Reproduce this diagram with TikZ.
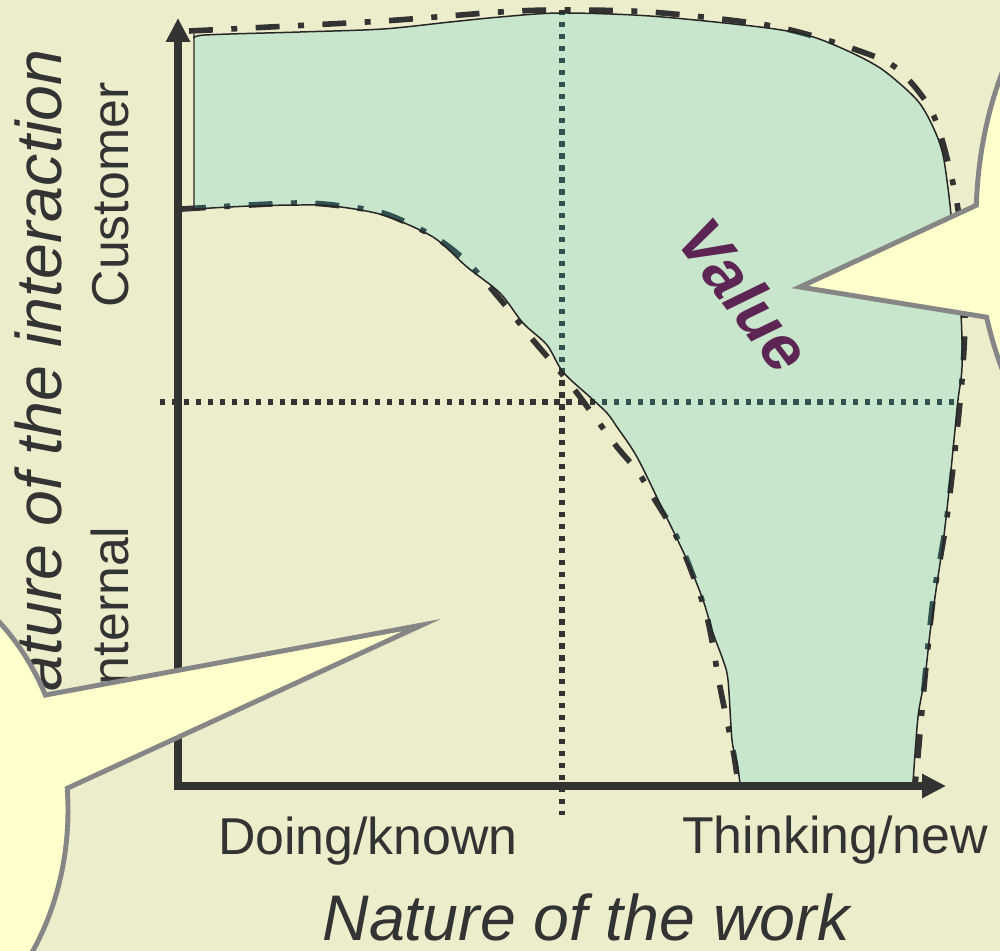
\documentclass[tikz,border=0pt]{standalone}
\usepackage{fontspec}
\setmainfont{Liberation Sans}
\usetikzlibrary{arrows.meta,calc}

\begin{document}
\begin{tikzpicture}[
    x=0.2mm, y=-0.2mm,
    axis/.style={
        line width=4pt,
        draw=inkgray,
        {Triangle[length=13.6pt,width=13pt]}-{Triangle[length=13.6pt,width=13pt]}
    },
    guide/.style={line width=3pt, draw=inkgray, dash pattern=on 3pt off 3.8pt},
    bound/.style={line width=3.2pt, draw=inkgray, dash pattern=on 13.6pt off 10.5pt on 3.4pt off 10.5pt},
    valuearea/.style={fill=mint, fill opacity=0.2, draw=black!85, line width=0.85pt},
    tick/.style={font=\fontsize{29.5}{34}\selectfont, text=inkgray, anchor=base, inner sep=0pt},
    axistitle/.style={font=\fontsize{36.7}{42}\selectfont\itshape, text=inkgray, anchor=base, inner sep=0pt},
    note/.style={fill=noteyellow, draw=notegray, line width=2.8pt, line join=miter}
]

\definecolor{beige}{RGB}{237,237,204}
\definecolor{mint}{RGB}{47,202,204}
\definecolor{inkgray}{RGB}{51,51,51}
\definecolor{notegray}{RGB}{134,134,134}
\definecolor{noteyellow}{RGB}{255,255,204}
\definecolor{valueplum}{RGB}{93,37,83}

\useasboundingbox (0,0) rectangle (1000,951);
\fill[beige] (0,0) rectangle (1000,951);
\clip (0,0) rectangle (1000,951);

% quadrant guides
\coordinate (vtop) at (562,10);
\coordinate (vbot) at (562,815);
\coordinate (hleft) at (160,402);
\coordinate (hright) at (958,402);
\draw[guide] (vtop) -- (vbot);
\draw[guide] (hleft) -- (hright);

% dash-dot limits of the value area
\draw[bound] plot[smooth, tension=0.5] coordinates {(189,31) (250,28) (383,21) (500,12) (560,10) (650,12) (760,24) (820,38) (883,60) (907,78) (930,108) (943,143) (957,203) (963,260) (965,320) (962,380) (955,450) (947,517) (940,560) (933,600) (925,677) (917,767) (915,783)};
\draw[bound] plot[smooth, tension=0.5] coordinates {(182,209) (250,205) (300,203) (333,205) (383,213) (433,236) (467,262) (500,299) (533,340) (557,368) (577,393) (597,420) (617,447) (638,472) (655,500) (672,528) (687,560) (707,617) (720,687) (733,750) (738,783)};

% value area
\path[valuearea] (194,209) -- (194,34)
    -- plot[smooth, tension=0.5] coordinates {(194,39) (205,35) (300,32) (383,29) (450,22) (500,17) (560,13) (650,16) (760,27) (810,36) (850,52) (883,70) (917,100) (933,127) (943,155) (950,205) (955,260) (961,315) (962,367) (958,400) (953,450) (948,500) (943,543) (936,590) (930,633) (925,677) (918,717) (913,783)}
    -- plot[smooth, tension=0.5] coordinates {(740,783) (737,763) (732,740) (728,680) (723,660) (713,633) (703,600) (687,560) (663,510) (637,457) (617,427) (607,413) (590,397) (563,372) (547,345) (523,323) (500,293) (467,267) (433,237) (383,215) (333,206) (300,205) (250,206) (194,209)}
    -- cycle;

% axes
\coordinate (origin) at (178,786);
\coordinate (ytop) at (178,18);
\coordinate (xend) at (946,786);
\draw[axis] (ytop) -- (origin) -- (xend);

% labels
\node[tick] (doing) at (368,854) {Doing/known};
\node[tick] (thinking) at (835,853) {Thinking/new};
\node[axistitle] (work) at (586,940) {Nature of the work};
\node[tick, rotate=90] (customer) at (128,195) {Customer};
\node[tick, rotate=90] (internal) at (128,613) {Internal};
\node[axistitle, rotate=90] (interaction) at (61,394) {Nature of the interaction};
\node[font=\fontsize{37}{40}\selectfont\bfseries\itshape, text=valueplum, rotate=-53] (value) at (745,295) {Value};

% callouts
\coordinate (rightc) at (1176,221);
\coordinate (righttip) at (800,287);
\draw[note] (righttip) -- ($(rightc)+(183:200 and 300)$)
    arc[start angle=183, end angle=521.3, x radius=200, y radius=300] -- cycle;

\coordinate (leftc) at (-132,810);
\coordinate (lefttip) at (422,625);
\draw[note] (lefttip) -- ($(leftc)+(-27.5:200 and 249)$)
    arc[start angle=-27.5, end angle=-365, x radius=200, y radius=249] -- cycle;

\end{tikzpicture}
\end{document}
